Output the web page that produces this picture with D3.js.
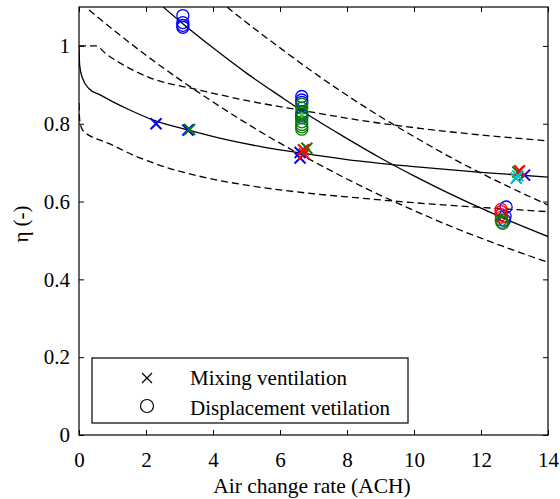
<!DOCTYPE html>
<html>
<head>
<meta charset="utf-8">
<script src="https://cdn.jsdelivr.net/npm/d3@7"></script>
<style>
  html, body { margin: 0; padding: 0; background: #fff; }
  svg { display: block; }
  text { font-family: "Liberation Serif", "Times New Roman", "DejaVu Serif", serif; fill: #000; }
</style>
</head>
<body>
<svg id="chart" width="560" height="499"></svg>
<script>
// Axis ticks
const xTicks = [0, 2, 4, 6, 8, 10, 12, 14];
const yTicks = [0, 0.2, 0.4, 0.6, 0.8, 1];

// Fitted curve, mixing ventilation (solid) and its bounds (dashed)
const mixFit   = [[0,1.0],[0.02,0.95],[0.1,0.918],[0.3,0.89],[0.63,0.874],[1,0.857],[1.5,0.836],[2.2,0.81],[3.3,0.783],[4.5,0.757],[5.5,0.74],[6.6,0.725],[8,0.708],[10,0.69],[12,0.675],[14,0.663]];
const mixUpper = [[0,1.0],[0.5,1.0],[0.8,0.98],[1.43,0.946],[2.12,0.918],[3.52,0.888],[5.1,0.858],[6.6,0.835],[8.69,0.805],[11,0.78],[14,0.756]];
const mixLower = [[0,0.853],[0.02,0.81],[0.1,0.785],[0.3,0.77],[0.63,0.758],[1,0.745],[1.6,0.72],[2.1,0.703],[2.6,0.688],[3.6,0.665],[5,0.642],[6,0.63],[7,0.62],[8,0.612],[10,0.597],[12,0.585],[14,0.574]];

// Fitted curve, displacement ventilation (solid) and its bounds (dashed)
const dispFit   = [[2.5,1.101],[3,1.064],[4,0.995],[5,0.93],[6,0.871],[7,0.814],[8,0.762],[9,0.712],[10,0.666],[11,0.623],[12,0.583],[13,0.545],[14,0.51]];
const dispUpper = [[4.42,1.1],[5,1.06],[6,0.995],[7,0.932],[8,0.873],[9,0.818],[10,0.767],[11,0.718],[12,0.673],[13,0.631],[14,0.591]];
const dispLower = [[0.3,1.092],[1,1.043],[2,0.976],[3,0.914],[4,0.856],[5,0.801],[6,0.75],[7,0.703],[8,0.658],[9,0.616],[10,0.577],[11,0.54],[12,0.506],[13,0.474],[14,0.444]];

// Measurements: [ACH, efficiency, colour]
const mixingPoints = [
  [2.3, 0.80, "#0000ff"],
  [3.25, 0.784, "#0000ff"],
  [3.3, 0.785, "#008000"],
  [6.6, 0.712, "#0000ff"],
  [6.6, 0.726, "#0000ff"],
  [6.72, 0.722, "#ff0000"],
  [6.8, 0.737, "#008000"],
  [6.7, 0.733, "#ff0000"],
  [13.3, 0.668, "#0000ff"],
  [13.1, 0.676, "#008000"],
  [13.15, 0.679, "#ff0000"],
  [13.05, 0.66, "#00bfbf"],
  [13.1, 0.666, "#00bfbf"]
];
const displacementPoints = [
  [3.1, 1.078, "#0000ff"],
  [3.1, 1.06, "#0000ff"],
  [3.1, 1.053, "#0000ff"],
  [3.1, 1.048, "#0000ff"],
  [6.65, 0.87, "#0000ff"],
  [6.65, 0.861, "#0000ff"],
  [6.65, 0.855, "#0000ff"],
  [6.65, 0.85, "#008000"],
  [6.65, 0.84, "#008000"],
  [6.65, 0.83, "#008000"],
  [6.65, 0.822, "#0000ff"],
  [6.65, 0.816, "#0000ff"],
  [6.65, 0.825, "#008000"],
  [6.65, 0.815, "#008000"],
  [6.65, 0.805, "#008000"],
  [6.65, 0.798, "#008000"],
  [6.65, 0.792, "#008000"],
  [6.65, 0.786, "#008000"],
  [12.75, 0.586, "#0000ff"],
  [12.72, 0.562, "#0000ff"],
  [12.7, 0.552, "#0000ff"],
  [12.6, 0.58, "#ff0000"],
  [12.6, 0.574, "#ff0000"],
  [12.6, 0.566, "#ff0000"],
  [12.62, 0.56, "#ff0000"],
  [12.6, 0.553, "#008000"],
  [12.62, 0.547, "#008000"],
  [12.65, 0.544, "#008000"]
];

const legendLabels = ["Mixing ventilation", "Displacement vetilation"];

const serif = '"Liberation Serif", "Times New Roman", serif';
const svg = d3.select("#chart");
const plotLeft = 79, plotRight = 548, plotTop = 7, plotBottom = 435;

const x = d3.scaleLinear().domain([0, 14]).range([plotLeft, plotRight]);
const y = d3.scaleLinear().domain([0, 1.1]).range([plotBottom, plotTop]);

svg.append("defs").append("clipPath").attr("id", "plotArea")
  .append("rect").attr("x", plotLeft).attr("y", plotTop)
  .attr("width", plotRight - plotLeft).attr("height", plotBottom - plotTop);

const plot = svg.append("g").attr("clip-path", "url(#plotArea)");

const line = d3.line().x(d => x(d[0])).y(d => y(d[1])).curve(d3.curveMonotoneX);

const curves = [
  { data: dispLower, dash: "7,4" },
  { data: dispUpper, dash: "7,4" },
  { data: mixLower, dash: "7,4" },
  { data: mixUpper, dash: "7,4" },
  { data: dispFit, dash: null },
  { data: mixFit, dash: null }
];
curves.forEach(c => {
  plot.append("path")
    .attr("d", line(c.data))
    .attr("fill", "none")
    .attr("stroke", "#000")
    .attr("stroke-width", 1.3)
    .attr("stroke-dasharray", c.dash);
});

// Circles: displacement ventilation
plot.selectAll("circle.disp").data(displacementPoints).join("circle")
  .attr("class", "disp")
  .attr("cx", d => x(d[0])).attr("cy", d => y(d[1]))
  .attr("r", 6)
  .attr("fill", "none")
  .attr("stroke", d => d[2])
  .attr("stroke-width", 1.3);

// Crosses: mixing ventilation
const cross = s => `M${-s},${-s}L${s},${s}M${-s},${s}L${s},${-s}`;
plot.selectAll("path.mix").data(mixingPoints).join("path")
  .attr("class", "mix")
  .attr("transform", d => `translate(${x(d[0])},${y(d[1])})`)
  .attr("d", cross(5.5))
  .attr("fill", "none")
  .attr("stroke", d => d[2])
  .attr("stroke-width", 2);

// Axes with inward ticks on all four sides
const axisStyle = g => {
  g.select(".domain").remove();
  g.attr("font-family", serif);
  g.selectAll(".tick line").attr("stroke", "#000").attr("stroke-width", 1);
};
svg.append("g").attr("transform", `translate(0,${plotBottom})`)
  .call(d3.axisBottom(x).tickValues(xTicks).tickSize(-5).tickFormat(d3.format("d")))
  .call(axisStyle)
  .call(g => g.selectAll(".tick text").attr("y", 17)
    .style("font-size", "21px").style("font-family", serif));
svg.append("g").attr("transform", `translate(0,${plotTop})`)
  .call(d3.axisTop(x).tickValues(xTicks).tickSize(-5).tickFormat(""))
  .call(axisStyle);
svg.append("g").attr("transform", `translate(${plotLeft},0)`)
  .call(d3.axisLeft(y).tickValues(yTicks).tickSize(-5).tickFormat(d => d === 0 || d === 1 ? d3.format("d")(d) : d3.format(".1f")(d)))
  .call(axisStyle)
  .call(g => g.selectAll(".tick text").attr("x", -9)
    .style("font-size", "21px").style("font-family", serif));
svg.append("g").attr("transform", `translate(${plotRight},0)`)
  .call(d3.axisRight(y).tickValues(yTicks).tickSize(-5).tickFormat(""))
  .call(axisStyle);

svg.append("rect")
  .attr("x", plotLeft).attr("y", plotTop)
  .attr("width", plotRight - plotLeft).attr("height", plotBottom - plotTop)
  .attr("fill", "none").attr("stroke", "#000").attr("stroke-width", 1.2);

// Axis titles
svg.append("text")
  .attr("x", 312).attr("y", 493)
  .attr("text-anchor", "middle")
  .style("font-size", "21.5px").style("font-family", serif)
  .text("Air change rate (ACH)");
svg.append("text")
  .attr("transform", "translate(28,224) rotate(-90)")
  .attr("text-anchor", "middle")
  .style("font-size", "21px").style("font-family", serif)
  .text("η (-)");

// Legend
const lg = svg.append("g");
lg.append("rect")
  .attr("x", 92).attr("y", 358).attr("width", 316).attr("height", 65)
  .attr("fill", "#fff").attr("stroke", "#000").attr("stroke-width", 1.2);
lg.append("path")
  .attr("transform", "translate(147,378)")
  .attr("d", cross(5))
  .attr("stroke", "#000").attr("stroke-width", 1.2).attr("fill", "none");
lg.append("circle")
  .attr("cx", 147).attr("cy", 406).attr("r", 6.5)
  .attr("fill", "none").attr("stroke", "#000").attr("stroke-width", 1.2);
lg.selectAll("text.lbl").data(legendLabels).join("text")
  .attr("class", "lbl")
  .attr("x", 190).attr("y", (d, i) => 385 + i * 30)
  .style("font-size", "21px").style("font-family", serif)
  .text(d => d);
</script>
</body>
</html>
